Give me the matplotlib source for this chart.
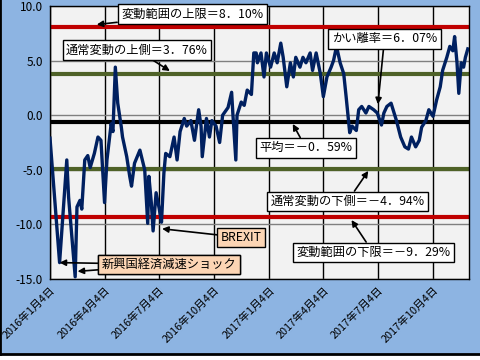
import pandas as pd
import matplotlib.pyplot as plt
from matplotlib.patches import Rectangle
from matplotlib.lines import Line2D

plt.rcParams['font.family'] = ['Noto Sans CJK JP', 'DejaVu Sans']

# deviation rate (%)
dates = [
    '2016-01-04', '2016-01-12', '2016-01-20', '2016-02-01', '2016-02-04', '2016-02-15',
    '2016-02-18', '2016-02-23', '2016-02-26', '2016-03-02', '2016-03-07', '2016-03-11',
    '2016-03-18', '2016-03-24', '2016-03-29', '2016-04-04', '2016-04-08', '2016-04-15',
    '2016-04-18', '2016-04-22', '2016-04-26', '2016-05-02', '2016-05-04', '2016-05-11',
    '2016-05-16', '2016-05-19', '2016-05-24', '2016-06-02', '2016-06-10', '2016-06-15',
    '2016-06-17', '2016-06-21', '2016-06-24', '2016-06-29', '2016-07-04', '2016-07-08',
    '2016-07-12', '2016-07-15', '2016-07-22', '2016-07-29', '2016-08-03', '2016-08-08',
    '2016-08-15', '2016-08-19', '2016-08-26', '2016-09-01', '2016-09-08', '2016-09-12',
    '2016-09-14', '2016-09-21', '2016-09-26', '2016-09-30', '2016-10-07', '2016-10-13',
    '2016-10-18', '2016-10-27', '2016-11-02', '2016-11-04', '2016-11-09', '2016-11-11',
    '2016-11-18', '2016-11-23', '2016-11-28', '2016-12-05', '2016-12-09', '2016-12-13',
    '2016-12-15', '2016-12-21', '2016-12-26', '2016-12-30', '2017-01-06', '2017-01-12',
    '2017-01-17', '2017-01-23', '2017-01-27', '2017-02-02', '2017-02-08', '2017-02-13',
    '2017-02-17', '2017-02-24', '2017-03-01', '2017-03-06', '2017-03-13', '2017-03-17',
    '2017-03-23', '2017-03-30', '2017-04-04', '2017-04-10', '2017-04-17', '2017-04-21',
    '2017-04-26', '2017-05-02', '2017-05-08', '2017-05-12', '2017-05-18', '2017-05-22',
    '2017-05-29', '2017-06-02', '2017-06-07', '2017-06-14', '2017-06-19', '2017-06-27',
    '2017-07-03', '2017-07-10', '2017-07-14', '2017-07-19', '2017-07-26', '2017-07-31',
    '2017-08-04', '2017-08-11', '2017-08-18', '2017-08-24', '2017-08-29', '2017-09-05',
    '2017-09-11', '2017-09-15', '2017-09-22', '2017-09-27', '2017-10-04', '2017-10-10',
    '2017-10-16', '2017-10-20', '2017-10-27', '2017-11-01', '2017-11-06', '2017-11-09',
    '2017-11-13', '2017-11-16', '2017-11-20', '2017-11-24', '2017-11-27', '2017-12-01',
]
values = [
    -2.1, -7.8, -13.5, -4.1, -7.5, -14.8,
    -8.4, -7.8, -8.6, -4.1, -3.7, -4.8,
    -3.5, -2.0, -2.3, -8.0, -4.1, -0.8,
    -1.5, 4.4, 1.1, -1.1, -2.0, -3.8,
    -5.6, -6.5, -4.4, -3.2, -5.0, -9.9,
    -5.6, -8.0, -10.6, -7.1, -8.5, -9.8,
    -5.3, -3.5, -3.8, -2.0, -4.1, -1.5,
    -0.3, -1.0, -0.5, -2.3, 0.5, -1.0,
    -3.8, -0.3, -2.0, -0.5, -1.0, -2.5,
    0.0, 0.7, 2.1, 0.2, -4.1, 0.0,
    1.2, 0.9, 2.3, 1.9, 5.7, 5.7,
    4.8, 5.7, 3.5, 5.7, 4.4, 5.7,
    4.8, 6.6, 5.3, 2.6, 4.8, 3.5,
    5.3, 4.4, 5.3, 4.8, 5.7, 4.1,
    5.7, 3.8, 1.7, 3.5, 4.4, 5.0,
    6.3, 4.8, 3.8, 1.7, -1.6, -1.0,
    -1.4, 0.5, 0.8, 0.2, 0.8, 0.5,
    0.2, -0.9, 0.2, 0.8, 1.1, 0.2,
    -0.5, -2.0, -2.9, -3.1, -2.0, -2.9,
    -2.3, -1.1, -0.5, 0.5, -0.1, 1.4,
    2.6, 4.1, 5.3, 6.3, 5.9, 7.2,
    4.8, 2.0, 4.8, 4.4, 5.3, 6.07,
]

upper_limit = 8.10
upper_normal = 3.76
mean_value = -0.59
lower_normal = -4.94
lower_limit = -9.29

tick_dates = ['2016-01-04', '2016-04-04', '2016-07-04', '2016-10-04',
              '2017-01-04', '2017-04-04', '2017-07-04', '2017-10-04']

df = pd.DataFrame({'date': pd.to_datetime(dates), 'value': values})
ticks = pd.to_datetime(tick_dates)

fig = plt.figure(figsize=(4.8, 3.6), dpi=100, facecolor='white')
# blue chart area with black left/bottom edge
fig.patches.append(Rectangle((0, 6 / 360), 1, 1, transform=fig.transFigure,
                             facecolor='#8DB4E2', edgecolor='none', zorder=-10))
fig.lines.append(Line2D([0.001, 0.001], [6 / 360, 1], transform=fig.transFigure,
                        color='black', lw=2))
fig.lines.append(Line2D([0, 1], [6 / 360, 6 / 360], transform=fig.transFigure,
                        color='black', lw=2))

ax = fig.add_axes([50 / 480, 1 - 279 / 360, 419 / 480, 273 / 360])
ax.set_facecolor('#F2F2F2')

ax.set_ylim(-15, 10)
ax.set_yticks([10, 5, 0, -5, -10, -15])
ax.set_yticklabels(['%.1f' % t for t in [10, 5, 0, -5, -10, -15]], fontsize=8.5)
ax.set_xlim(df['date'].iloc[0], pd.Timestamp('2017-12-03'))
ax.set_xticks(ticks)
ax.set_xticklabels([f'{d.year}年{d.month}月{d.day}日' for d in ticks],
                   rotation=45, ha='right', rotation_mode='anchor', fontsize=7.8)
ax.tick_params(axis='y', length=0, pad=5)
ax.tick_params(axis='x', length=0, pad=4)
ax.yaxis.grid(True, color='#808080', lw=1)
ax.xaxis.grid(True, color='black', lw=1)
ax.set_axisbelow(True)
for s in ax.spines.values():
    s.set_color('black')
    s.set_linewidth(1)

ax.axhline(upper_limit, color='#C00000', lw=3)
ax.axhline(lower_limit, color='#C00000', lw=3)
ax.axhline(upper_normal, color='#4F6228', lw=3)
ax.axhline(lower_normal, color='#4F6228', lw=3)
ax.axhline(mean_value, color='black', lw=3)

ax.plot(df['date'], df['value'], color='#002060', lw=2.4, zorder=5)

white_box = dict(boxstyle='square,pad=0.28', fc='white', ec='black', lw=1)
peach_box = dict(boxstyle='square,pad=0.28', fc='#FCD5B4', ec='black', lw=1)
arrow = dict(arrowstyle='-|>', color='black', lw=1.2, mutation_scale=9,
             shrinkA=0, shrinkB=0)

def note(text, xy, xytext, box):
    ax.annotate(text, xy=(pd.Timestamp(xy[0]), xy[1]),
                xytext=(pd.Timestamp(xytext[0]), xytext[1]),
                fontsize=8.8, ha='center', va='center', bbox=box,
                arrowprops=arrow, zorder=10, annotation_clip=False)

note('変動範囲の上限＝8．10%', ('2016-03-22', 8.3), ('2016-08-28', 9.27), white_box)
note('通常変動の上側＝3．76%', ('2016-07-22', 4.05), ('2016-05-28', 5.97), white_box)
note('かい離率＝6．07%', ('2017-07-04', 1.0), ('2017-07-15', 6.98), white_box)
note('平均＝－0．59%', ('2017-02-12', -0.8), ('2017-03-06', -3.0), white_box)
note('通常変動の下側＝－4．94%', ('2017-06-18', -5.1), ('2017-05-14', -7.9), white_box)
note('変動範囲の下限＝－9．29%', ('2017-05-21', -9.6), ('2017-06-26', -12.57), white_box)
note('BREXIT', ('2016-07-09', -10.4), ('2016-11-18', -11.2), peach_box)
note('新興国経済減速ショック', ('2016-01-20', -13.5), ('2016-07-21', -13.67), peach_box)
note('新興国経済減速ショック', ('2016-02-19', -14.3), ('2016-07-21', -13.67), peach_box)

fig.savefig('out.png', dpi=100, facecolor=fig.get_facecolor())
